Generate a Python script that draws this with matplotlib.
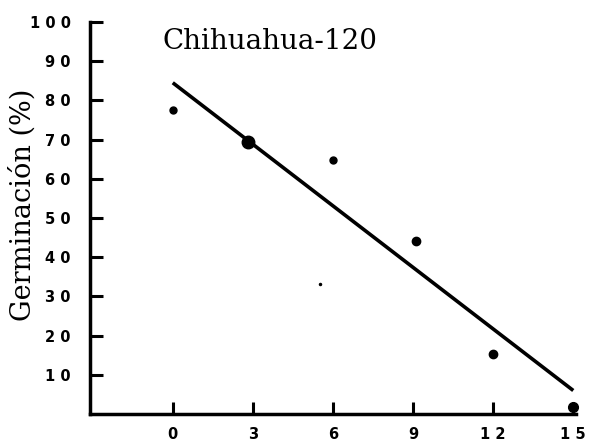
import matplotlib
matplotlib.use("Agg")
import matplotlib.pyplot as plt
import numpy as np

# Data
dias = [0, 2.8, 6, 9.1, 12, 15]
germinacion = [77.5, 69.3, 64.7, 44.2, 15.3, 1.8]
punto_sizes = [5, 9, 5, 6, 6, 7]
reg_x = [0, 15]
reg_y = [84.5, 6.0]
speck_x = [5.5]
speck_y = [33.2]
xticks = [0, 3, 6, 9, 12, 15]
yticks = [10, 20, 30, 40, 50, 60, 70, 80, 90, 100]

fig = plt.figure(figsize=(5.89, 4.46), dpi=100)
ax = fig.add_axes([0.1528, 0.0717, 0.825, 0.879])

ax.plot(reg_x, reg_y, color="black", lw=2.6, solid_capstyle="butt")
for x, y, s in zip(dias, germinacion, punto_sizes):
    ax.plot([x], [y], "o", color="black", ms=s, zorder=3, clip_on=False)
ax.plot(speck_x, speck_y, "o", color="black", ms=1.5)

ax.set_xlim(-3.1, 15.1)
ax.set_ylim(0, 100)
ax.spines["top"].set_visible(False)
ax.spines["right"].set_visible(False)
ax.spines["left"].set_linewidth(2.5)
ax.spines["bottom"].set_linewidth(2.5)

ax.set_xticks(xticks)
ax.set_xticklabels([" ".join(str(t)) for t in xticks],
                   fontfamily="DejaVu Sans", fontweight="bold", fontsize=10.5)
ax.set_yticks(yticks)
ax.set_yticklabels([" ".join(str(t)) for t in yticks],
                   fontfamily="DejaVu Sans", fontweight="bold", fontsize=10.5)
ax.tick_params(axis="both", direction="in", length=9, width=2.2)
ax.tick_params(axis="y", pad=14)
ax.tick_params(axis="x", pad=9)

fig.text(23 / 589, 1 - 205 / 446, "Germinación (%)", fontfamily="DejaVu Serif",
         fontsize=19.5, rotation=90, ha="center", va="center")
ax.text(-0.4, 94.9, "Chihuahua-120", fontfamily="DejaVu Serif", fontsize=20,
        ha="left", va="center")

fig.savefig("out.png", dpi=100)
